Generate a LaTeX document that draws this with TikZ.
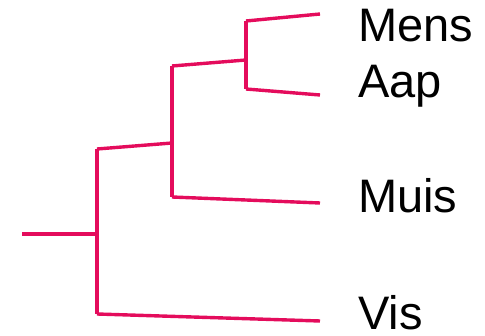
\documentclass[tikz,border=0pt]{standalone}
\usepackage{fontspec}
\setmainfont{Liberation Sans}
\usetikzlibrary{calc}
\definecolor{branch}{RGB}{228,12,92}
\tikzset{
  edge/.style={draw=branch, line width=3.4pt, line join=round},
  leaflabel/.style={anchor=base west, inner sep=0pt, font=\fontsize{47}{50}\selectfont, text=black},
}
\newcommand{\bend}[2]{\draw[edge] (#1) .. controls ($(#1)!0.03!(#2)$ |- #2) and ($(#1)!0.35!(#2)$ |- #2) .. (#2);}
\begin{document}
\begin{tikzpicture}[x=1pt,y=-1pt]
\useasboundingbox (0,0) rectangle (485,336);
% tree coordinates
\coordinate (root) at (22,234);
\coordinate (n1) at (97,234);
\coordinate (t1) at (97,149);
\coordinate (b1) at (97,314);
\coordinate (n2) at (172,143);
\coordinate (t2) at (172,66);
\coordinate (b2) at (172,197);
\coordinate (n3) at (246,60);
\coordinate (t3) at (246,21);
\coordinate (b3) at (246,89);
\coordinate (eMens) at (320,14);
\coordinate (eAap) at (320,95);
\coordinate (eMuis) at (320,203);
\coordinate (eVis) at (320,321);
% labels
\node[leaflabel] (lMens) at (358,42) {Mens};
\node[leaflabel] (lAap) at (358,98) {Aap};
\node[leaflabel] (lMuis) at (358,213) {Muis};
\node[leaflabel] (lVis) at (358,330) {Vis};
% edges
\draw[edge] (root) -- (n1);
\draw[edge] (t1) -- (b1);
\bend{t1}{n2}
\bend{b1}{eVis}
\draw[edge] (t2) -- (b2);
\bend{t2}{n3}
\bend{b2}{eMuis}
\draw[edge] (t3) -- (b3);
\bend{t3}{eMens}
\bend{b3}{eAap}
\end{tikzpicture}
\end{document}
